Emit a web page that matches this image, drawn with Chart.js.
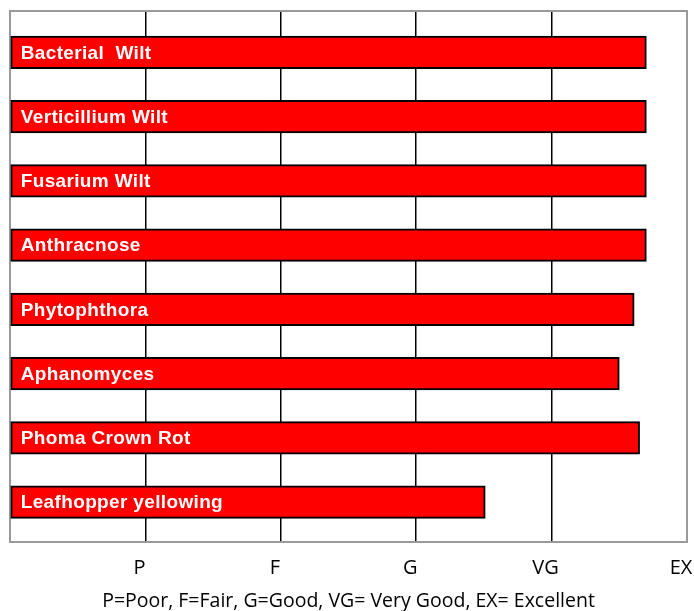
<!DOCTYPE html>
<html><head><meta charset="utf-8">
<script src="https://cdn.jsdelivr.net/npm/chart.js@4.4.0/dist/chart.umd.min.js"></script>
<style>html,body{margin:0;padding:0;background:#fff;} #wrap{width:694px;height:611px;}</style>
</head><body><div id="wrap"><canvas id="c" width="694" height="611"></canvas></div>
<script>
const categories = ["Bacterial  Wilt","Verticillium Wilt","Fusarium Wilt","Anthracnose","Phytophthora","Aphanomyces","Phoma Crown Rot","Leafhopper yellowing"];
const ratings = [4.70, 4.70, 4.70, 4.70, 4.61, 4.50, 4.65, 3.51];
const tickLabels = ["", "P", "F", "G", "VG", "EX"];
const footnote = "P=Poor, F=Fair, G=Good, VG= Very Good, EX= Excellent";

const framePlugin = {
  id: 'frame',
  beforeDatasetsDraw(chart) {
    const {ctx, chartArea: a} = chart;
    ctx.save();
    ctx.strokeStyle = '#999';
    ctx.lineWidth = 2;
    ctx.strokeRect(a.left, a.top, a.right - a.left, a.bottom - a.top);
    ctx.restore();
  }
};
const labelPlugin = {
  id: 'barLabels',
  afterDatasetsDraw(chart) {
    const {ctx} = chart;
    const meta = chart.getDatasetMeta(0);
    ctx.save();
    ctx.font = 'bold 19px "Liberation Sans", Arial, sans-serif';
    try { ctx.letterSpacing = '0.35px'; } catch (e) {}
    ctx.fillStyle = '#fff';
    ctx.textBaseline = 'middle';
    ctx.textAlign = 'left';
    meta.data.forEach((bar, i) => {
      ctx.fillText(categories[i], bar.base + 10, bar.y + 1);
    });
    ctx.restore();
  }
};

new Chart(document.getElementById('c'), {
  type: 'bar',
  data: {
    datasets: [{
      data: categories.map((c, i) => ({y: i, x: ratings[i]})),
      backgroundColor: '#ff0000',
      borderColor: '#000',
      borderWidth: 2,
      borderSkipped: false,
      barThickness: 32.5
    }]
  },
  options: {
    indexAxis: 'y',
    responsive: false,
    animation: false,
    layout: {padding: {left: 10, right: 7, top: 11, bottom: 0}},
    plugins: {legend: {display: false}, tooltip: {enabled: false}},
    scales: {
      y: {type: 'linear', display: false, reverse: true, offset: false, bounds: 'data', min: -0.643, max: 7.62, grid: {offset: false}},
      x: {
        type: 'linear', min: 0, max: 5,
        border: {display: false},
        grid: {
          drawTicks: false,
          lineWidth: 1.5,
          color: (c) => (c.tick && c.tick.value > 0 && c.tick.value < 5) ? '#000' : 'rgba(0,0,0,0)'
        },
        ticks: {
          stepSize: 1, autoSkip: false, maxRotation: 0, padding: 14, labelOffset: -6,
          color: '#000',
          font: {family: '"Open Sans", sans-serif', size: 20},
          callback: (v) => tickLabels[v]
        },
        title: {
          display: true, text: footnote, color: '#000',
          font: {family: '"Open Sans", sans-serif', size: 19.5},
          padding: {top: 0, bottom: -2}
        },
        afterFit: (s) => { s.paddingLeft = 0; s.paddingRight = 0; s.height = 69; }
      }
    }
  },
  plugins: [framePlugin, labelPlugin]
});
</script></body></html>
